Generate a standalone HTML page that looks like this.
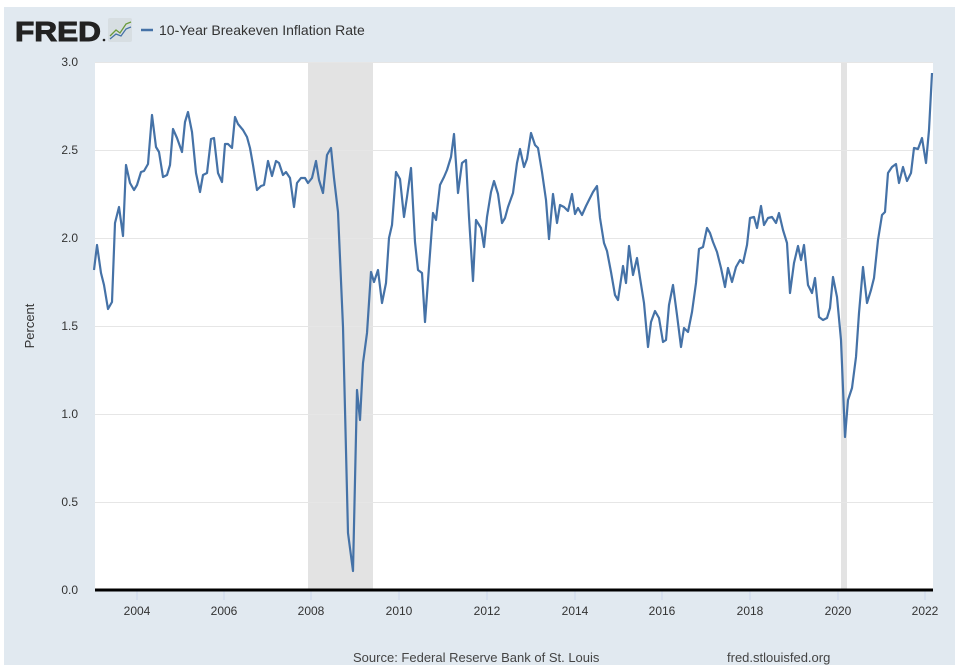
<!DOCTYPE html>
<html><head><meta charset="utf-8"><style>
body{margin:0;background:#fff;width:960px;height:672px;overflow:hidden}
svg{display:block;font-family:"Liberation Sans",sans-serif}
</style></head><body>
<svg width="960" height="672" viewBox="0 0 960 672">
<rect x="4" y="7" width="951" height="658" fill="#e1e9f0"/>
<rect x="95" y="62" width="838" height="528" fill="#fff"/>
<rect x="308" y="62" width="65" height="528" fill="#e3e3e3"/>
<rect x="841" y="62" width="6" height="528" fill="#e3e3e3"/>
<g stroke="#e6e6e6" stroke-width="1">
<line x1="95" x2="933" y1="502.5" y2="502.5"/><line x1="95" x2="933" y1="414.5" y2="414.5"/>
<line x1="95" x2="933" y1="326.5" y2="326.5"/><line x1="95" x2="933" y1="238.5" y2="238.5"/>
<line x1="95" x2="933" y1="150.5" y2="150.5"/><line x1="95" x2="933" y1="62.5" y2="62.5"/>
</g>
<g stroke="#ccd6eb" stroke-width="1">
<line x1="137" x2="137" y1="591" y2="600"/><line x1="224" x2="224" y1="591" y2="600"/>
<line x1="311" x2="311" y1="591" y2="600"/><line x1="399" x2="399" y1="591" y2="600"/>
<line x1="487" x2="487" y1="591" y2="600"/><line x1="575" x2="575" y1="591" y2="600"/>
<line x1="662" x2="662" y1="591" y2="600"/><line x1="750" x2="750" y1="591" y2="600"/>
<line x1="838" x2="838" y1="591" y2="600"/><line x1="925" x2="925" y1="591" y2="600"/>
</g>
<line x1="95" x2="933" y1="590" y2="590" stroke="#000" stroke-width="3"/>
<polyline fill="none" stroke="#4572a7" stroke-width="2.2" stroke-linejoin="round" points="
94,270 97,245 101,273 104,285 108,309 112,302 115,223 119,207 123,236 126,165 130,183 134,190 137,185 141,172 144,171 148,164 152,115 156,147 159,152 163,177 167,175 170,165 173,129 177,138 182,152 185,122 188,112 192,132 196,173 200,192 203,175 207,173 211,139 214,138 218,173 222,182 225,144 228,144 232,148 235,117 238,124 243,130 247,137 250,148 253,165 257,190 261,186 264,185 268,161 272,176 276,161 279,163 283,175 286,172 290,178 294,207 297,183 301,178 305,178 308,183 312,178 316,161 319,180 323,193 327,155 331,148 334,178 338,212 343,327 348,533 353,571 357,390 360,420 363,363 367,333 371,272 374,282 378,270 382,303 386,283 389,238 392,225 396,172 400,179 404,217 407,197 411,168 415,242 418,270 422,273 425,322 429,267 433,213 436,220 440,185 444,177 447,170 451,157 454,134 458,193 462,163 466,160 469,217 473,281 476,220 481,228 484,247 487,217 491,192 494,181 498,194 502,223 505,218 508,207 513,193 517,163 520,149 524,167 527,159 531,133 535,145 538,148 542,172 546,200 549,239 553,194 557,223 560,205 564,207 568,211 572,194 575,214 578,208 582,215 586,206 590,198 593,192 597,186 600,218 604,243 607,251 611,272 615,295 618,300 623,266 626,283 629,246 633,275 637,258 640,278 644,303 648,347 651,322 655,311 659,318 663,342 666,340 669,305 673,285 677,315 681,347 684,328 688,332 692,312 696,283 699,249 703,247 707,228 710,233 713,242 717,252 721,268 725,287 728,268 732,282 736,267 740,260 743,263 747,245 750,218 754,217 757,228 761,206 764,225 768,218 772,217 776,223 779,213 783,230 787,243 790,293 794,263 798,246 801,260 804,245 808,285 812,293 815,278 819,317 823,320 827,318 830,308 833,277 837,297 841,340 845,437 848,400 852,388 856,357 859,313 863,267 867,303 871,290 874,278 878,240 882,215 885,212 888,173 892,167 896,164 899,183 903,167 907,181 911,173 914,148 918,149 922,138 926,163 929,130 932,73"/>
<g font-size="12" fill="#333" text-anchor="end">
<text x="78" y="594">0.0</text><text x="78" y="506">0.5</text><text x="78" y="418">1.0</text>
<text x="78" y="330">1.5</text><text x="78" y="242">2.0</text><text x="78" y="154">2.5</text><text x="78" y="66">3.0</text>
</g>
<g font-size="12" fill="#333" text-anchor="middle">
<text x="137" y="615">2004</text><text x="224" y="615">2006</text><text x="311" y="615">2008</text>
<text x="399" y="615">2010</text><text x="487" y="615">2012</text><text x="575" y="615">2014</text>
<text x="662" y="615">2016</text><text x="750" y="615">2018</text><text x="838" y="615">2020</text><text x="925" y="615">2022</text>
</g>
<text x="34" y="326" font-size="13" fill="#333" text-anchor="middle" transform="rotate(-90 34 326)">Percent</text>
<text x="15" y="41" font-size="28" font-weight="bold" fill="#222" stroke="#222" stroke-width="1" textLength="86" lengthAdjust="spacingAndGlyphs">FRED</text>
<circle cx="104" cy="40" r="1.3" fill="#222"/>
<rect x="108" y="18" width="24" height="24" fill="#d7dee2" rx="2"/>
<polyline points="110,36 116,30 120,33 126,24 131,22" fill="none" stroke="#6a9a3a" stroke-width="1.3"/>
<polyline points="110,39 116,34 121,36 126,29 131,27" fill="none" stroke="#4572a7" stroke-width="1.3"/>
<line x1="141" x2="153" y1="30" y2="30" stroke="#4572a7" stroke-width="2.5"/>
<text x="159" y="35" font-size="14" fill="#333">10-Year Breakeven Inflation Rate</text>
<text x="353" y="662" font-size="13" fill="#444">Source: Federal Reserve Bank of St. Louis</text>
<text x="727" y="662" font-size="13" fill="#444">fred.stlouisfed.org</text>
</svg>
</body></html>
